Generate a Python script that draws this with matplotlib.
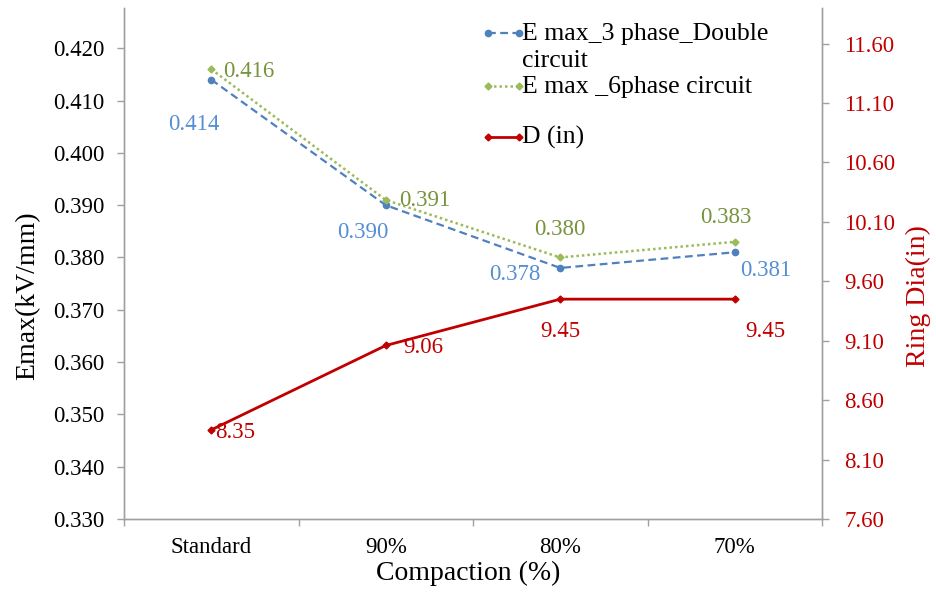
import matplotlib
matplotlib.use("Agg")
import matplotlib.pyplot as plt
from matplotlib.lines import Line2D

categories = ["Standard", "90%", "80%", "70%"]
emax_3phase = [0.414, 0.390, 0.378, 0.381]
emax_6phase = [0.416, 0.391, 0.380, 0.383]
ring_dia = [8.35, 9.06, 9.45, 9.45]

left_ticks = [0.330, 0.340, 0.350, 0.360, 0.370, 0.380, 0.390, 0.400, 0.410, 0.420]
right_ticks = [7.60, 8.10, 8.60, 9.10, 9.60, 10.10, 10.60, 11.10, 11.60]

BLUE = "#4F81BD"
BLUE_TXT = "#558ED5"
GREEN = "#9BBB59"
GREEN_TXT = "#77933C"
RED = "#C00000"
GRAY = "#A0A0A0"

DASH_BLUE = (0, (3.5, 2))
DOT_GREEN = (0, (1, 1.2))

plt.rcParams["font.family"] = ["Liberation Serif", "DejaVu Serif"]

W, H = 936, 592
fig = plt.figure(figsize=(W / 100, H / 100), dpi=100)
ax = fig.add_axes([124 / W, 1 - 519 / H, 698 / W, 511 / H])
ax2 = ax.twinx()

x = list(range(len(categories)))

style_blue = dict(color=BLUE, lw=1.6, ls=DASH_BLUE, marker="o", ms=4.5, mfc=BLUE, mec=BLUE)
style_green = dict(color=GREEN, lw=1.8, ls=DOT_GREEN, marker="D", ms=3.5, mfc=GREEN, mec=GREEN)
style_red = dict(color=RED, lw=2.0, ls="-", marker="D", ms=3.5, mfc=RED, mec=RED)

ax.plot(x, emax_3phase, **style_blue)
ax.plot(x, emax_6phase, **style_green)
ax2.plot(x, ring_dia, **style_red)

ax.set_xlim(-0.5, 3.5)
ax.set_ylim(0.330, 0.4277)
ax2.set_ylim(7.60, 11.90)

ax.set_yticks(left_ticks)
ax.set_yticklabels([f"{v:.3f}" for v in left_ticks])
ax2.set_yticks(right_ticks)
ax2.set_yticklabels([f"{v:.2f}" for v in right_ticks])

# category labels centred, tick marks on category boundaries
ax.set_xticks(x)
ax.set_xticklabels(categories, fontsize=16.5)
ax.tick_params(axis="x", length=0, pad=13)
ax.set_xticks([-0.5, 0.5, 1.5, 2.5, 3.5], minor=True)
ax.tick_params(axis="x", which="minor", length=5, color=GRAY, width=1)

ax.tick_params(axis="y", labelsize=16.5, length=5, color=GRAY, width=1, pad=9)
ax2.tick_params(axis="y", labelsize=16.5, length=5, color=GRAY, width=1, pad=11,
                labelcolor=RED)

for a in (ax, ax2):
    a.spines["top"].set_visible(False)
    for s in ("left", "right", "bottom"):
        a.spines[s].set_color(GRAY)
        a.spines[s].set_linewidth(1.0)

ax.set_ylabel("Emax(kV/mm)", fontsize=20)
ax.yaxis.set_label_coords(28 / W, 0.5, transform=fig.transFigure)
ax2.set_ylabel("Ring Dia(in)", fontsize=20, color=RED)
ax2.yaxis.set_label_coords(918 / W, 0.5, transform=fig.transFigure)
ax.set_xlabel("Compaction (%)", fontsize=20)
ax.xaxis.set_label_coords(0.5, 1 - 573 / H, transform=fig.transFigure)
ax.xaxis.label.set_va("center")
ax.yaxis.label.set_va("center")
ax2.yaxis.label.set_va("center")

# value labels (offsets in pixels)
fs = 16.5
blue_offsets = [(-17, -45), (-23, -27), (-45, -7), (31, -18)]
green_offsets = [(37, -2), (39, -1), (0, 28), (-9, 24)]
red_offsets = [(24, -3), (37, -2), (0, -32), (31, -32)]
for i in x:
    dx, dy = blue_offsets[i]
    ax.annotate(f"{emax_3phase[i]:.3f}", (i, emax_3phase[i]), xytext=(dx, dy),
                textcoords="offset pixels", ha="center", va="center",
                color=BLUE_TXT, fontsize=fs)
    dx, dy = green_offsets[i]
    ax.annotate(f"{emax_6phase[i]:.3f}", (i, emax_6phase[i]), xytext=(dx, dy),
                textcoords="offset pixels", ha="center", va="center",
                color=GREEN_TXT, fontsize=fs)
    dx, dy = red_offsets[i]
    ax2.annotate(f"{ring_dia[i]:.2f}", (i, ring_dia[i]), xytext=(dx, dy),
                 textcoords="offset pixels", ha="center", va="center",
                 color=RED, fontsize=fs)

# legend drawn as handle + text rows
legend_rows = [
    (style_blue, "E max_3 phase_Double\ncircuit", 33),
    (style_green, "E max _6phase circuit", 86),
    (style_red, "D (in)", 137),
]
hx0, hx1, tx = 488, 519, 522
for style, label, ypx in legend_rows:
    yf = 1 - ypx / H
    fig.add_artist(Line2D([hx0 / W, hx1 / W], [yf, yf], transform=fig.transFigure,
                          **style))
    fig.text(tx / W, 1 - (ypx + 7) / H, label.split("\n")[0], fontsize=18.5,
             ha="left", va="baseline")
    if "\n" in label:
        fig.text(tx / W, 1 - (ypx + 34) / H, label.split("\n")[1], fontsize=18.5,
                 ha="left", va="baseline")

fig.savefig("out.png", dpi=100)
